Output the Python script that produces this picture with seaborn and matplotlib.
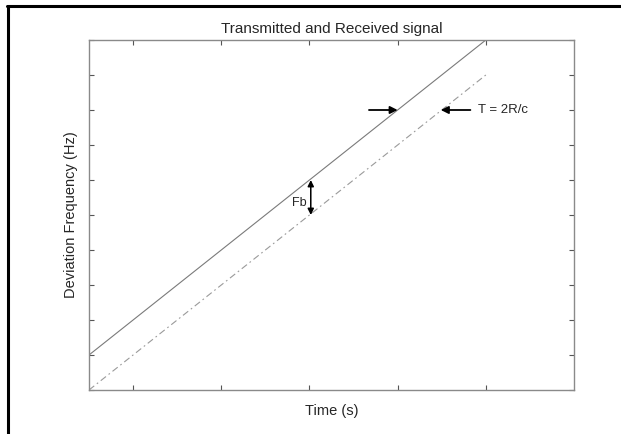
import matplotlib
matplotlib.use("Agg")
import matplotlib.pyplot as plt
from matplotlib.lines import Line2D
import seaborn as sns
import pandas as pd

# Chirp ramps: transmitted and delayed received frequency versus time
time = [0, 9]
transmitted = [1, 10]
received = [0, 9]

x_ticks = [1, 3, 5, 7, 9]
y_ticks = list(range(0, 11))

sns.set_style("white")
plt.rcParams["font.family"] = ["Liberation Sans", "DejaVu Sans"]

fig = plt.figure(figsize=(6.21, 4.34), dpi=100)
ax = fig.add_axes([89 / 621, 44 / 434, 485 / 621, 350 / 434])

df = pd.DataFrame({"t": time + time,
                   "f": transmitted + received,
                   "sig": ["tx"] * len(time) + ["rx"] * len(time)})

sns.lineplot(data=df[df.sig == "tx"], x="t", y="f", ax=ax,
             color="#7a7a7a", lw=0.8, legend=False)
sns.lineplot(data=df[df.sig == "rx"], x="t", y="f", ax=ax,
             color="#9a9a9a", lw=0.8, legend=False)
ax.lines[1].set_dashes([6, 3, 1.5, 3])

ax.set_xlim(0, 11)
ax.set_ylim(0, 10)
ax.set_xticks(x_ticks)
ax.set_yticks(y_ticks)
ax.tick_params(direction="in", length=3.5, width=0.8, color="#555555",
               top=True, right=True, bottom=True, left=True,
               labelbottom=False, labelleft=False)
for s in ax.spines.values():
    s.set_visible(True)
    s.set_color("#8a8a8a")
    s.set_linewidth(1.0)

ax.set_title("Transmitted and Received signal", fontsize=11, pad=5)
ax.set_xlabel("Time (s)", fontsize=10.5, labelpad=10)
ax.set_ylabel("Deviation Frequency (Hz)", fontsize=10.5, labelpad=8)

arrow = dict(arrowstyle="-|>", color="black", lw=1.3, mutation_scale=11,
             shrinkA=0, shrinkB=0)
# Delay markers between the two ramps
ax.annotate("", xy=(7.0, 8), xytext=(6.35, 8), arrowprops=arrow)
ax.annotate("", xy=(7.98, 8), xytext=(8.65, 8), arrowprops=arrow)
ax.text(8.82, 8, "T = 2R/c", fontsize=9.5, va="center", ha="left")

# Beat frequency between the ramps
ax.annotate("", xy=(5.03, 6.0), xytext=(5.03, 5.0),
            arrowprops=dict(arrowstyle="<|-|>", color="black", lw=1.1,
                            mutation_scale=9, shrinkA=0, shrinkB=0))
ax.text(4.78, 5.34, "Fb", fontsize=9, va="center", ha="center")

# Frame drawn along the top and left edges of the figure
fig.add_artist(Line2D([7 / 621, 1], [1 - 6 / 434, 1 - 6 / 434],
                      transform=fig.transFigure, color="black", lw=2.2))
fig.add_artist(Line2D([8 / 621, 8 / 621], [0, 1 - 6 / 434],
                      transform=fig.transFigure, color="black", lw=2.2))

fig.savefig("out.png", dpi=100)
